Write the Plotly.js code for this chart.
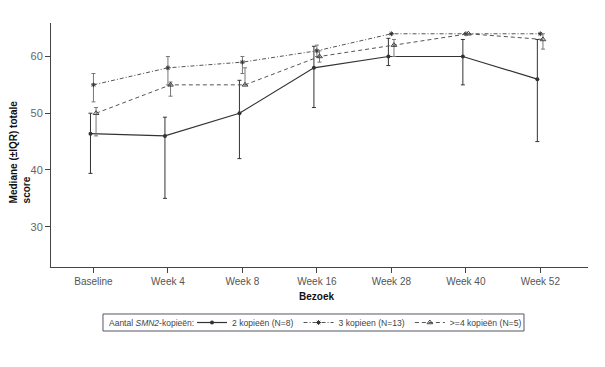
<!DOCTYPE html>
<html>
<head>
<meta charset="utf-8">
<script src="https://cdn.plot.ly/plotly-3.0.1.min.js"></script>
<style>html,body{margin:0;padding:0;background:#fff;}#chart{width:605px;height:367px;}</style>
</head>
<body>
<div id="chart"></div>
<script>
// Categories (visits)
const visits = ["Baseline", "Week 4", "Week 8", "Week 16", "Week 28", "Week 40", "Week 52"];

// 2 kopieën (N=8): median, Q1, Q3
const median2 = [46.4, 46, 50, 58, 60, 60, 56];
const q1_2    = [39.4, 35, 42, 51, 58.4, 55, 45];
const q3_2    = [50, 49.3, 55.8, 61.8, 63.2, 63, 63];

// 3 kopieen (N=13)
const median3 = [55, 58, 59, 61, 64, 64, 64];
const q1_3    = [52, 55, 57, 60, 64, 64, 64];
const q3_3    = [57, 60, 60, 62, 64, 64, 64];

// >=4 kopieën (N=5)
const median4 = [50, 55, 55, 60, 62, 64, 63];
const q1_4    = [46, 53, 55, 59, 60, 64, 61.3];
const q3_4    = [51, 55.5, 58, 61, 63, 64, 64];

const seriesNames = ["2 kopieën (N=8)", "3 kopieen (N=13)", ">=4 kopieën (N=5)"];
const legendTitle = "Aantal <i>SMN2</i>-kopieën:";
const yTicks = [30, 40, 50, 60];

const idx = visits.map((_, i) => i);
function xs(off) { return idx.map(i => i + off); }
function errPlus(m, q3) { return m.map((v, i) => q3[i] - v); }
function errMinus(m, q1) { return m.map((v, i) => v - q1[i]); }

const traces = [
  {
    x: xs(-0.04), y: median2, name: seriesNames[0], type: "scatter", mode: "lines+markers",
    line: {color: "#333", width: 1.2},
    marker: {symbol: "circle", size: 4, color: "#333"},
    error_y: {type: "data", symmetric: false, array: errPlus(median2, q3_2), arrayminus: errMinus(median2, q1_2),
              color: "#333", thickness: 1, width: 2}
  },
  {
    x: xs(0), y: median3, name: seriesNames[1], type: "scatter", mode: "lines+markers",
    line: {color: "#555", width: 1, dash: "4px,2px,1px,2px"},
    marker: {symbol: "asterisk-open", size: 4, color: "#333", line: {color: "#333", width: 1}},
    error_y: {type: "data", symmetric: false, array: errPlus(median3, q3_3), arrayminus: errMinus(median3, q1_3),
              color: "#777", thickness: 1, width: 2}
  },
  {
    x: xs(0.035), y: median4, name: seriesNames[2], type: "scatter", mode: "lines+markers",
    line: {color: "#555", width: 1, dash: "4px,3px"},
    marker: {symbol: "triangle-up-open", size: 5, color: "#444", line: {color: "#444", width: 1}},
    error_y: {type: "data", symmetric: false, array: errPlus(median4, q3_4), arrayminus: errMinus(median4, q1_4),
              color: "#777", thickness: 1, width: 2}
  }
];

const layout = {
  width: 605, height: 367,
  margin: {l: 51, r: 17, t: 23, b: 100},
  paper_bgcolor: "#fff", plot_bgcolor: "#fff",
  font: {family: "Liberation Sans, Arial, sans-serif", color: "#444", size: 10},
  showlegend: true,
  xaxis: {
    range: [-0.57, 6.64], tickvals: idx, ticktext: visits,
    showgrid: false, zeroline: false, showline: true, linecolor: "#444", linewidth: 1,
    ticks: "outside", ticklen: 5, tickcolor: "#444",
    tickfont: {size: 10, color: "#555"}
  },
  yaxis: {
    range: [22.9, 65.9], tickvals: yTicks,
    showgrid: false, zeroline: false, showline: true, linecolor: "#444", linewidth: 1,
    ticks: "outside", ticklen: 5, tickcolor: "#444",
    tickfont: {size: 11, color: "#666"}
  },
  legend: {
    orientation: "h", x: 0.2626, xanchor: "left", y: -0.2275, yanchor: "middle",
    borderwidth: 0, bgcolor: "rgba(0,0,0,0)",
    font: {size: 8.6, color: "#444"},
    itemwidth: 30, tracegroupgap: 0
  },
  shapes: [
    {type: "rect", xref: "paper", yref: "paper", x0: 0.0968, x1: 0.8808, y0: -0.2623, y1: -0.1926,
     line: {color: "#556", width: 1}, fillcolor: "rgba(0,0,0,0)", layer: "below"}
  ],
  annotations: [
    {text: legendTitle, xref: "paper", yref: "paper", x: 0.1043, y: -0.2275,
     xanchor: "left", yanchor: "middle", showarrow: false, font: {size: 8.5, color: "#444"}},
    {text: "<b>Mediane (±IQR) totale<br>score</b>", xref: "paper", yref: "paper",
     x: -0.058, y: 0.254, xanchor: "center", yanchor: "bottom", textangle: -90, align: "left",
     showarrow: false, font: {size: 10, color: "#111"}},
    {text: "<b>Bezoek</b>", xref: "paper", yref: "paper", x: 0.495, y: -0.119,
     xanchor: "center", yanchor: "middle", showarrow: false, font: {size: 10, color: "#111"}}
  ]
};

Plotly.newPlot("chart", traces, layout, {displayModeBar: false, staticPlot: true});
</script>
</body>
</html>
